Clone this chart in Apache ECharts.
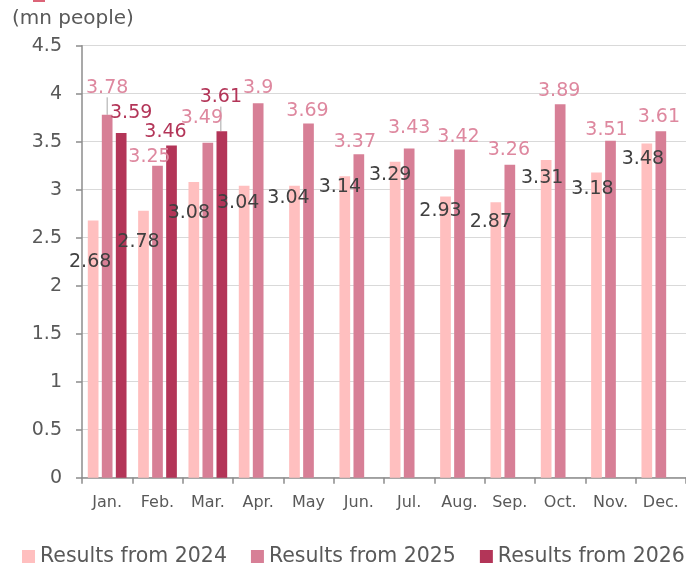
<!DOCTYPE html>
<html>
<head>
<meta charset="utf-8">
<script src="https://cdn.jsdelivr.net/npm/echarts@6/dist/echarts.min.js"></script>
<style>
html,body{margin:0;padding:0;background:#fff;}
#chart{width:686px;height:566px;}
</style>
</head>
<body>
<div id="chart"></div>
<script>
// ---- data ----
const categories = ['Jan.', 'Feb.', 'Mar.', 'Apr.', 'May', 'Jun.', 'Jul.', 'Aug.', 'Sep.', 'Oct.', 'Nov.', 'Dec.'];
const results2024 = [2.68, 2.78, 3.08, 3.04, 3.04, 3.14, 3.29, 2.93, 2.87, 3.31, 3.18, 3.48];
const results2025 = [3.78, 3.25, 3.49, 3.9, 3.69, 3.37, 3.43, 3.42, 3.26, 3.89, 3.51, 3.61];
const results2026 = [3.59, 3.46, 3.61, null, null, null, null, null, null, null, null, null];
const seriesNames = ['Results from 2024', 'Results from 2025', 'Results from 2026'];
const unitLabel = '(mn people)';
const yMin = 0, yMax = 4.5, yInterval = 0.5;

// ---- label placement (pixel shifts of each data label from the bar's top centre) ----
const labelShift = [
  [[-3,42],[-5,31],[-5,31],[-6,17],[-6,12],[-5,11],[-5,13],[-5,15],[-5,20],[-4,18],[-4,17],[-4,15]],
  [[0,-27],[-8,-9],[-6,-25],[0,-15],[-1,-12],[-4,-12],[0,-20],[-1,-12],[-1,-15],[-1,-13],[-4,-11],[-2,-14]],
  [[10,-20],[-6,-13],[-1,-34]]
];
const leaderLines = [[], [0], [2]]; // data indices whose label has a guide line

const colors = ['#FFBFBF', '#D77F96', '#B33558'];
const labelColors = ['#404040', '#DE889F', '#B33558'];
const FONT = 'DejaVu Sans, Verdana, sans-serif';

function buildData(values, si) {
  return values.map((v, i) => {
    if (v == null) return null;
    if (leaderLines[si].indexOf(i) >= 0) {
      return { value: v, labelLine: { show: true, lineStyle: { color: '#A6A6A6', width: 1 } } };
    }
    return v;
  });
}

const allValues = [results2024, results2025, results2026];

const chart = echarts.init(document.getElementById('chart'), null, { renderer: 'canvas' });
const option = {
  animation: false,
  color: colors,
  textStyle: { fontFamily: FONT },
  grid: { left: 82, right: 0, top: 45.7, bottom: 88.3, containLabel: false },
  graphic: [
    { type: 'rect', left: 33, top: 0, shape: { width: 12, height: 2 }, style: { fill: '#DC6478' } },
    { type: 'text', left: 12, top: 9, style: { text: unitLabel, fill: '#595959', font: '20px ' + FONT } }
  ],
  legend: {
    left: 22,
    top: 546,
    width: 680,
    padding: 0,
    itemWidth: 13,
    itemHeight: 13,
    itemGap: 24,
    icon: 'rect',
    textStyle: { color: '#595959', fontSize: 20.5, fontFamily: FONT, padding: [0, 0, 0, 0] },
    data: seriesNames
  },
  xAxis: {
    type: 'category',
    data: categories,
    axisLine: { lineStyle: { color: '#8C8C8C', width: 1.5 } },
    axisTick: { show: true, length: 6, alignWithLabel: false, lineStyle: { color: '#8C8C8C', width: 1.5 } },
    axisLabel: { color: '#595959', fontSize: 16, margin: 17, fontFamily: FONT, interval: 0 }
  },
  yAxis: {
    type: 'value',
    min: yMin,
    max: yMax,
    interval: yInterval,
    axisLine: { show: true, lineStyle: { color: '#8C8C8C', width: 1.5 } },
    axisTick: { show: true, length: 6, lineStyle: { color: '#8C8C8C', width: 1.5 } },
    axisLabel: { color: '#595959', fontSize: 19, margin: 20, fontFamily: FONT },
    splitLine: { show: true, lineStyle: { color: '#D9D9D9', width: 1 } }
  },
  series: allValues.map((vals, si) => ({
    name: seriesNames[si],
    type: 'bar',
    data: buildData(vals, si),
    barWidth: 10.7,
    barGap: '31%',
    itemStyle: { color: colors[si] },
    label: {
      show: true,
      position: 'top',
      color: labelColors[si],
      fontSize: 19,
      fontFamily: FONT
    },
    labelLine: { show: false },
    labelLayout: function (p) {
      const sh = (labelShift[p.seriesIndex] || [])[p.dataIndex];
      if (!sh || !p.rect) return {};
      return {
        x: p.rect.x + p.rect.width / 2 + sh[0],
        y: p.rect.y + sh[1],
        align: 'center',
        verticalAlign: 'middle'
      };
    }
  }))
};
chart.setOption(option);
</script>
</body>
</html>
